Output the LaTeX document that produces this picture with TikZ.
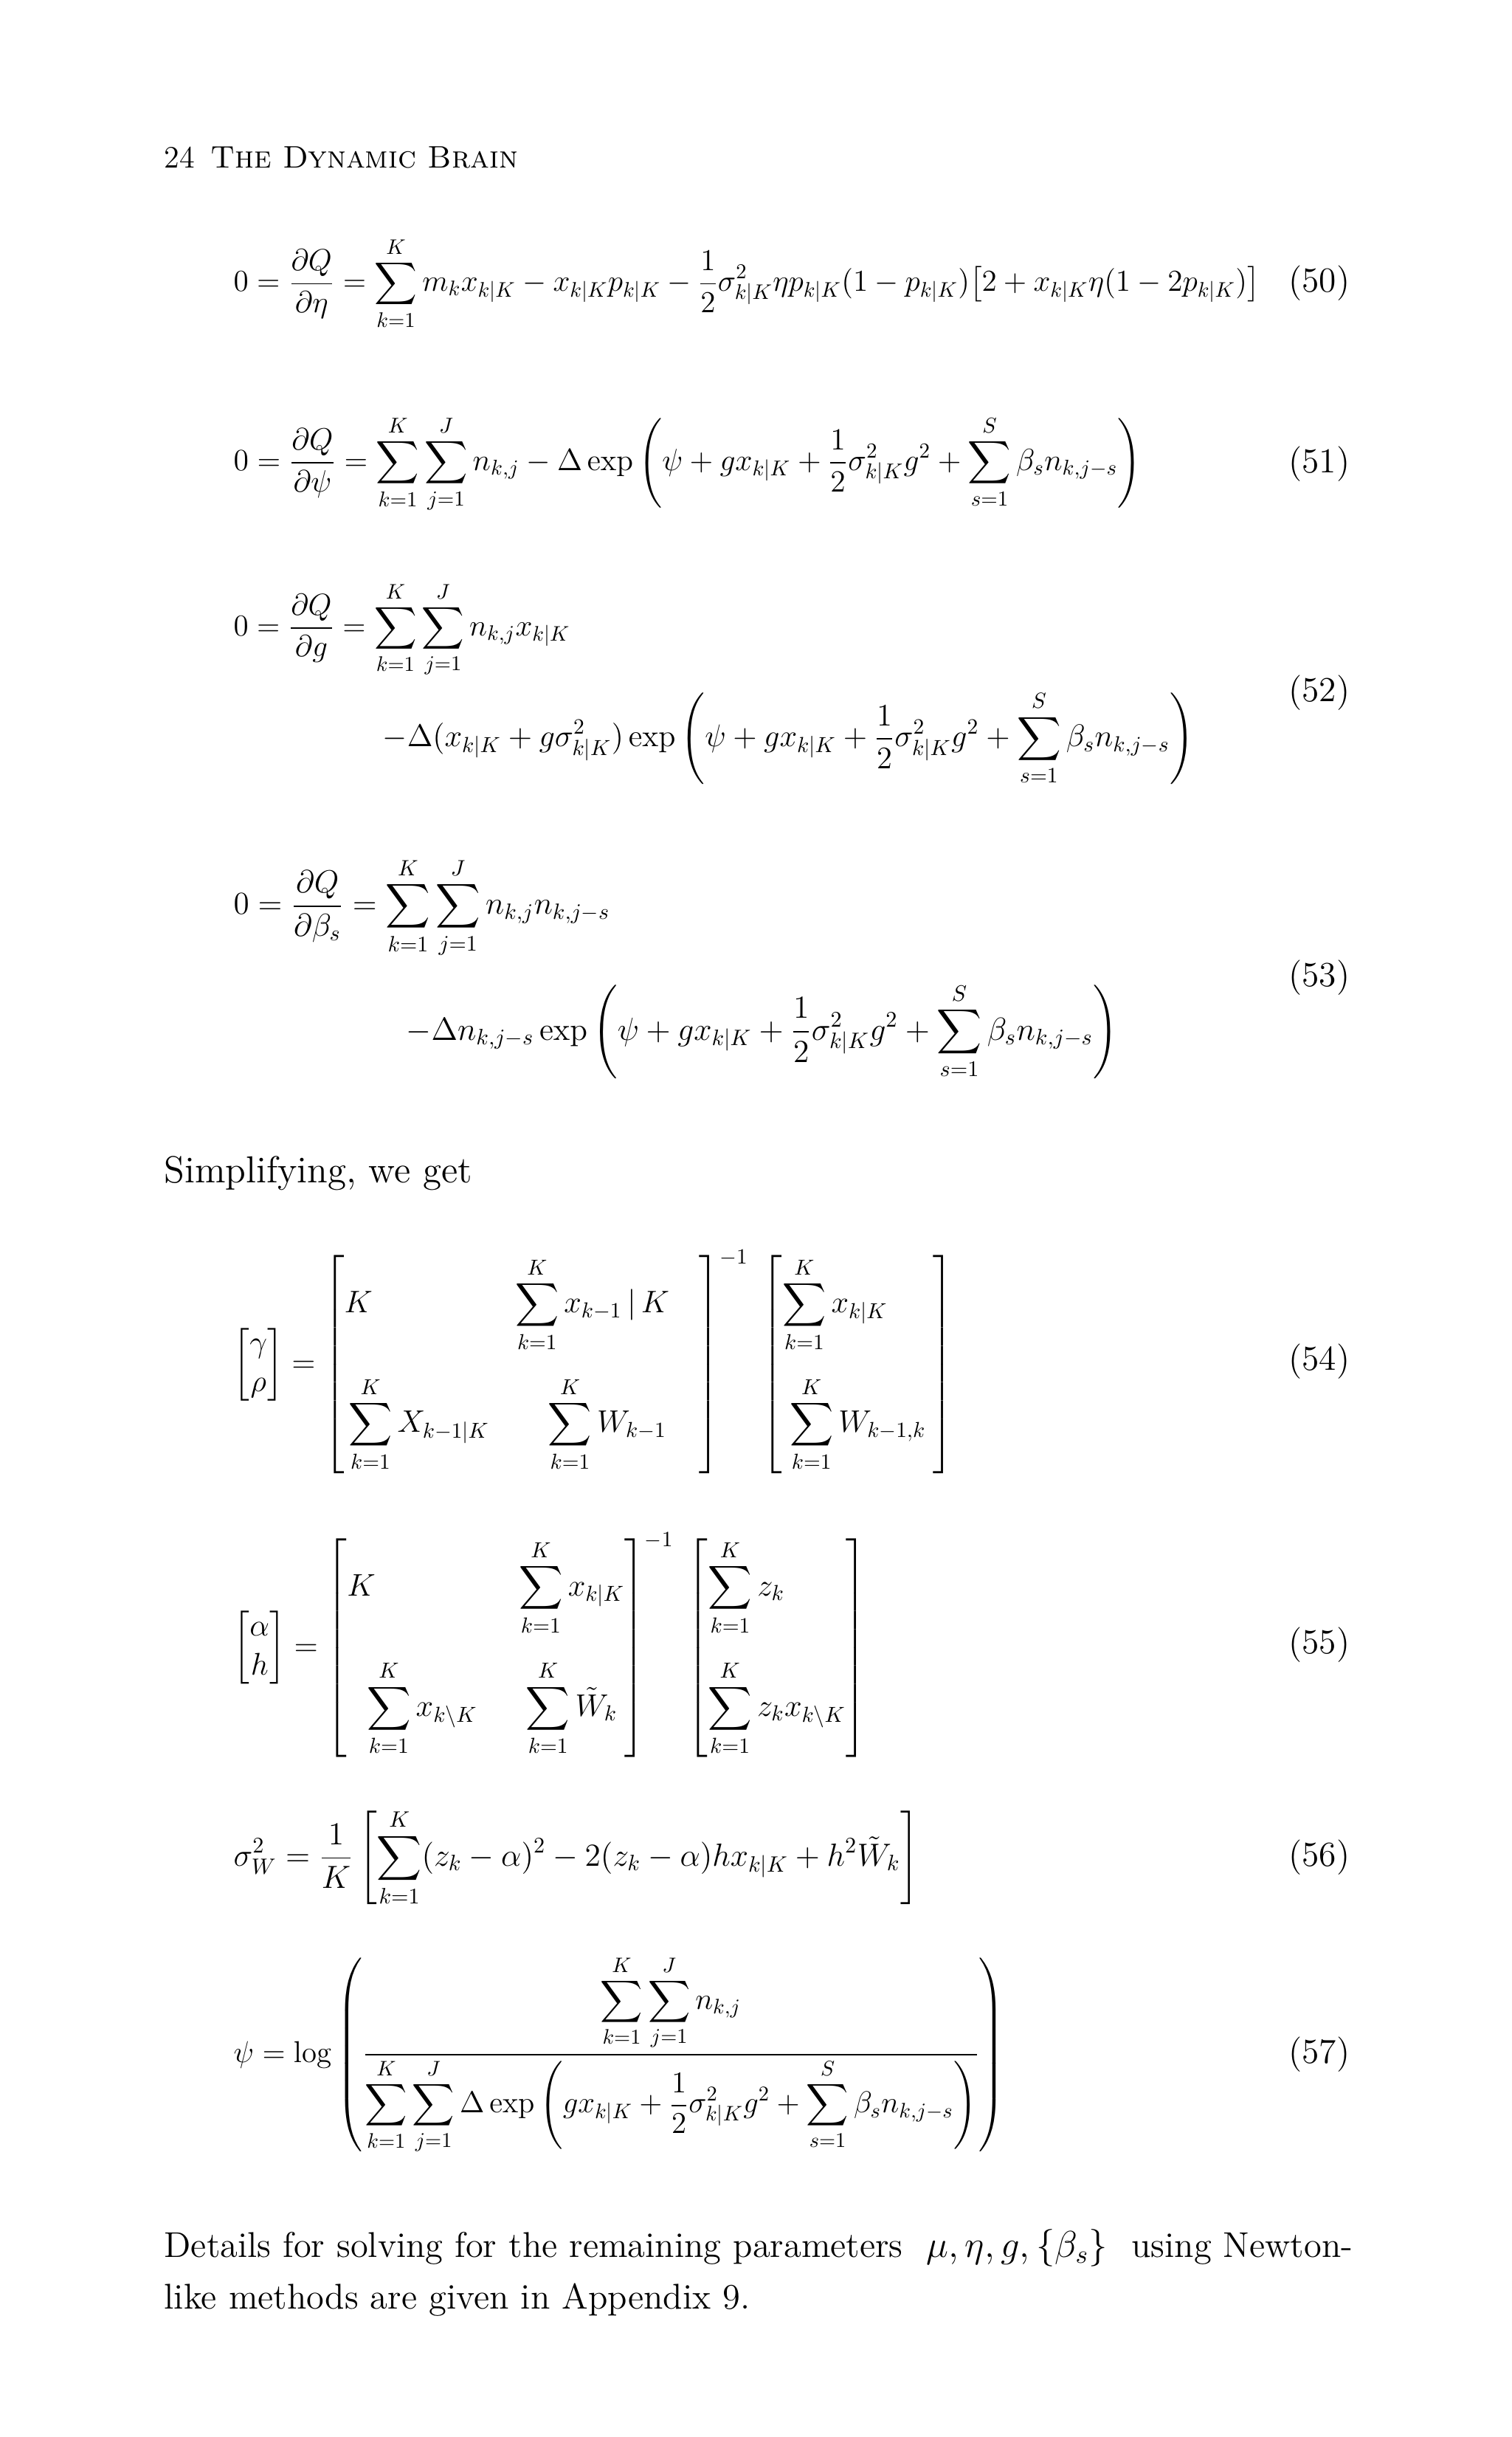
\documentclass[tikz,border=0pt]{standalone}
\usepackage{amsmath,amssymb,graphicx}
\newcommand{\rb}[2]{\resizebox{#1cm}{!}{$\displaystyle #2$}}
\begin{document}
\begin{tikzpicture}[x=1cm,y=1cm,
  eq/.style={anchor=west,inner sep=0pt,font=\fontsize{14}{18}\selectfont},
  num/.style={anchor=east,inner sep=0pt,font=\fontsize{13.5}{18}\selectfont},
  txt/.style={anchor=west,inner sep=0pt,font=\fontsize{14.5}{20}\selectfont}]
\useasboundingbox (0,0) rectangle (20.48,-33.02);
\node[anchor=west,inner sep=0pt,font=\fontsize{12}{14}\selectfont] (hd) at (2.22,-2.13) {24\enspace\textsc{The Dynamic Brain}};

\node[eq] (e50) at (3.16,-3.84) {\rb{13.9}{0=\frac{\partial Q}{\partial\eta}=\sum_{k=1}^{K} m_k x_{k|K} - x_{k|K}p_{k|K} - \frac12\sigma^2_{k|K}\eta p_{k|K}(1-p_{k|K})\bigl[2+x_{k|K}\eta(1-2p_{k|K})\bigr]}};
\node[num] (n50) at (18.3,-3.84) {(50)};

\node[eq] (e51) at (3.16,-6.29) {\rb{12.3}{0=\frac{\partial Q}{\partial\psi}=\sum_{k=1}^K\sum_{j=1}^J n_{k,j} - \Delta\exp\left(\psi+gx_{k|K}+\frac12\sigma^2_{k|K}g^2+\sum_{s=1}^S\beta_s n_{k,j-s}\right)}};
\node[num] (n51) at (18.3,-6.29) {(51)};

\node[eq] (e52a) at (3.16,-8.53) {\rb{4.56}{0=\frac{\partial Q}{\partial g}=\sum_{k=1}^K\sum_{j=1}^J n_{k,j}x_{k|K}}};
\node[eq] (e52b) at (5.18,-10.0) {\rb{10.99}{-\Delta(x_{k|K}+g\sigma^2_{k|K})\exp\left(\psi+gx_{k|K}+\frac12\sigma^2_{k|K}g^2+\sum_{s=1}^S\beta_s n_{k,j-s}\right)}};
\node[num] (n52) at (18.3,-9.39) {(52)};

\node[eq] (e53a) at (3.16,-12.3) {\rb{5.1}{0=\frac{\partial Q}{\partial \beta_s}=\sum_{k=1}^K\sum_{j=1}^J n_{k,j}n_{k,j-s}}};
\node[eq] (e53b) at (5.5,-13.97) {\rb{9.64}{-\Delta n_{k,j-s}\exp\left(\psi+gx_{k|K}+\frac12\sigma^2_{k|K}g^2+\sum_{s=1}^S\beta_s n_{k,j-s}\right)}};
\node[num] (n53) at (18.3,-13.25) {(53)};

\node[txt] (simp) at (2.22,-15.9) {Simplifying, we get};

\node[eq] (e54) at (3.16,-18.45) {\rb{9.75}{\begin{bmatrix}\gamma\\ \rho\end{bmatrix}=\begin{bmatrix} K\hspace{4em} & \displaystyle\sum_{k=1}^K x_{k-1}\,|\,K\hspace{1em} \\[4ex] \displaystyle\sum_{k=1}^K X_{k-1|K} & \displaystyle\sum_{k=1}^K W_{k-1}\end{bmatrix}^{-1}\;\begin{bmatrix}\displaystyle\sum_{k=1}^K x_{k|K}\hspace{1.5em}\\[4ex] \displaystyle\sum_{k=1}^K W_{k-1,k}\end{bmatrix}}};
\node[num] (n54) at (18.3,-18.45) {(54)};

\node[eq] (e55) at (3.16,-22.29) {\rb{8.57}{\begin{bmatrix}\alpha\\ h\end{bmatrix}=\begin{bmatrix} K\hspace{4em} & \displaystyle\sum_{k=1}^K x_{k|K} \\[4ex] \displaystyle\sum_{k=1}^K x_{k\backslash K} & \displaystyle\sum_{k=1}^K \tilde W_{k}\end{bmatrix}^{-1}\;\begin{bmatrix}\displaystyle\sum_{k=1}^K z_k\hspace{2em}\\[4ex] \displaystyle\sum_{k=1}^K z_k x_{k\backslash K}\end{bmatrix}}};
\node[num] (n55) at (18.3,-22.29) {(55)};

\node[eq] (e56) at (3.16,-25.17) {\rb{9.28}{\sigma^2_W=\frac1K\left[\sum_{k=1}^K (z_k-\alpha)^2-2(z_k-\alpha)hx_{k|K}+h^2\tilde W_k\right]}};
\node[num] (n56) at (18.3,-25.17) {(56)};

\node[eq] (e57) at (3.16,-27.84) {\rb{10.45}{\psi=\log\left(\frac{\displaystyle\sum_{k=1}^K\sum_{j=1}^J n_{k,j}}{\displaystyle\sum_{k=1}^K\sum_{j=1}^J\Delta\exp\left(gx_{k|K}+\frac12\sigma^2_{k|K}g^2+\sum_{s=1}^S\beta_s n_{k,j-s}\right)}\right)}};
\node[num] (n57) at (18.3,-27.84) {(57)};

\node[txt,anchor=north west,text width=16.1cm,align=left,font=\fontsize{13.8}{20}\selectfont] (det) at (2.22,-30.2) {\makebox[16.05cm][s]{Details for solving for the remaining parameters\ \ $\mu,\eta,g,\{\beta_s\}$\ \ using Newton-}\\like methods are given in Appendix 9.};
\end{tikzpicture}
\end{document}
